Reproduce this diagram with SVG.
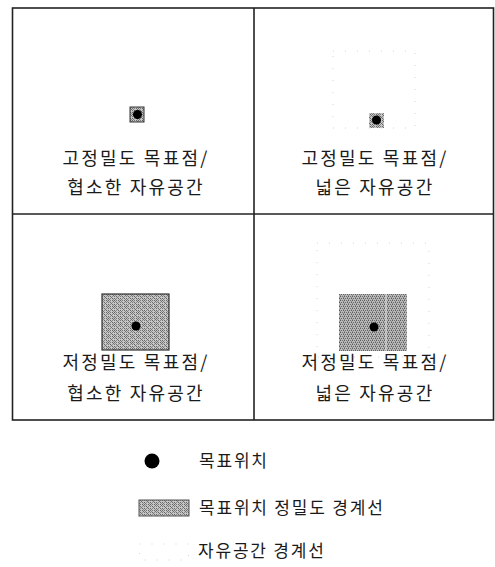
<svg xmlns="http://www.w3.org/2000/svg" width="495" height="567" viewBox="0 0 495 567">
<style>
.lbl{font-family:"Noto Sans CJK KR","Noto Sans",sans-serif;font-size:18px;fill:#1a1a1a;letter-spacing:2.2px;text-anchor:middle}
.leg{font-family:"Noto Sans CJK KR","Noto Sans",sans-serif;font-size:17px;fill:#1a1a1a;letter-spacing:1.8px}
.grid{fill:none;stroke:#222;stroke-width:1.6}
.free{fill:none;stroke:#d4d4d4;stroke-width:1;stroke-dasharray:1 11}
.dot{fill:#000}
</style>
<defs>
<pattern id="ht" width="6" height="6" patternUnits="userSpaceOnUse">
<rect width="6" height="6" fill="#c6c6c6"/>
<rect x="0" y="0" width="1" height="1" fill="#666"/>
<rect x="2" y="0" width="1" height="1" fill="#7a7a7a"/>
<rect x="4" y="0" width="1" height="1" fill="#666"/>
<rect x="1" y="1" width="1" height="1" fill="#8a8a8a"/>
<rect x="5" y="1" width="1" height="1" fill="#707070"/>
<rect x="0" y="2" width="1" height="1" fill="#777"/>
<rect x="2" y="2" width="1" height="1" fill="#666"/>
<rect x="4" y="2" width="1" height="1" fill="#8a8a8a"/>
<rect x="3" y="3" width="1" height="1" fill="#707070"/>
<rect x="0" y="4" width="1" height="1" fill="#666"/>
<rect x="2" y="4" width="1" height="1" fill="#8a8a8a"/>
<rect x="4" y="4" width="1" height="1" fill="#666"/>
<rect x="1" y="5" width="1" height="1" fill="#777"/>
<rect x="5" y="5" width="1" height="1" fill="#8a8a8a"/>
</pattern>
<pattern id="ht2" width="4" height="4" patternUnits="userSpaceOnUse">
<rect width="4" height="4" fill="#b8b8b8"/>
<rect x="0" y="0" width="1" height="1" fill="#5a5a5a"/>
<rect x="2" y="0" width="1" height="1" fill="#707070"/>
<rect x="1" y="2" width="1" height="1" fill="#666"/>
<rect x="3" y="2" width="1" height="1" fill="#5e5e5e"/>
<rect x="0" y="3" width="1" height="1" fill="#8a8a8a"/>
<rect x="3" y="1" width="1" height="1" fill="#8a8a8a"/>
</pattern>
</defs>
<rect width="495" height="567" fill="#fff"/>
<g id="grid">
<rect class="grid" x="12.5" y="8" width="481" height="412"/>
<line class="grid" x1="254" y1="8" x2="254" y2="420"/>
<line class="grid" x1="12.5" y1="214" x2="493.5" y2="214"/>
</g>
<g id="cell-high-narrow">
<rect x="130" y="107" width="14" height="15" fill="url(#ht)" stroke="#333" stroke-width="1"/>
<circle class="dot" cx="137.5" cy="114.5" r="4.5"/>
<text class="lbl" x="136" y="165">고정밀도 목표점/</text>
<text class="lbl" x="136" y="194">협소한 자유공간</text>
</g>
<g id="cell-high-wide">
<rect class="free" x="333" y="51" width="82" height="77"/>
<rect x="369" y="113" width="15" height="15" fill="url(#ht)"/>
<circle class="dot" cx="376.5" cy="120" r="4.5"/>
<text class="lbl" x="375" y="165">고정밀도 목표점/</text>
<text class="lbl" x="375" y="194">넓은 자유공간</text>
</g>
<g id="cell-low-narrow">
<rect x="102" y="294" width="67" height="56" fill="url(#ht)" stroke="#333" stroke-width="1.2"/>
<circle class="dot" cx="136" cy="326" r="4.5"/>
<text class="lbl" x="136" y="369">저정밀도 목표점/</text>
<text class="lbl" x="136" y="400">협소한 자유공간</text>
</g>
<g id="cell-low-wide">
<rect class="free" x="317" y="243" width="112" height="114"/>
<rect x="339" y="294" width="68" height="57" fill="url(#ht2)"/>
<line x1="386" y1="294" x2="386" y2="351" stroke="#e0e0e0" stroke-width="1"/>
<circle class="dot" cx="374" cy="327" r="4.5"/>
<text class="lbl" x="375" y="369">저정밀도 목표점/</text>
<text class="lbl" x="375" y="400">넓은 자유공간</text>
</g>
<g id="legend">
<circle class="dot" cx="152" cy="461" r="7.5"/>
<text class="leg" x="199" y="467">목표위치</text>
<rect x="139" y="500" width="50" height="16" fill="url(#ht)" stroke="#555" stroke-width="1"/>
<text class="leg" x="199" y="514">목표위치 정밀도 경계선</text>
<rect class="free" x="139.5" y="544" width="49" height="16"/>
<text class="leg" x="198" y="557">자유공간 경계선</text>
</g>
</svg>
